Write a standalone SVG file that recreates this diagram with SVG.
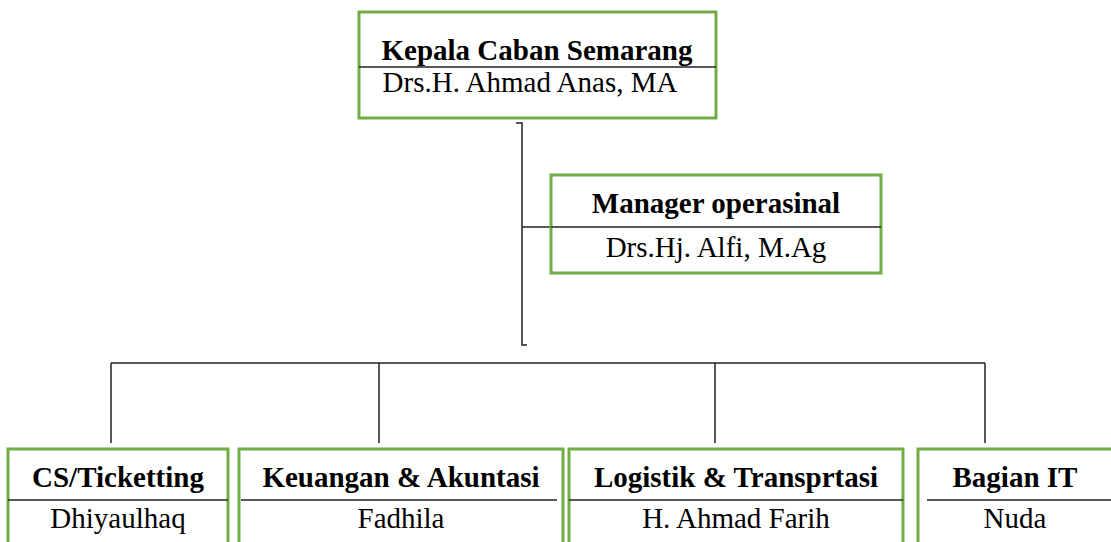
<svg xmlns="http://www.w3.org/2000/svg" width="1111" height="542" viewBox="0 0 1111 542">
<style>
.box{fill:#fff;stroke:#70AD47;stroke-width:3}
.div{stroke:#222;stroke-width:1.5;fill:none}
.con{stroke:#222;stroke-width:1.5;fill:none}
.t{font-family:"Liberation Serif","Times New Roman",serif;font-size:29px;fill:#000;text-anchor:middle}
.b{font-weight:bold}
</style>
<rect width="1111" height="542" fill="#fff"/>
<g id="connectors">
<polyline class="con" points="516,123 522,123 522,345 527,345"/>
<line class="con" x1="522" y1="227" x2="551" y2="227"/>
<line class="con" x1="111" y1="363" x2="985" y2="363"/>
<line class="con" x1="111" y1="363" x2="111" y2="443"/>
<line class="con" x1="379" y1="363" x2="379" y2="443"/>
<line class="con" x1="715" y1="363" x2="715" y2="443"/>
<line class="con" x1="985" y1="363" x2="985" y2="443"/>
</g>
<g id="kepala">
<rect class="box" x="359" y="12" width="357" height="106"/>
<line class="div" x1="359" y1="67" x2="716" y2="67"/>
<text class="t b" x="537" y="60">Kepala Caban Semarang</text>
<text class="t" x="530" y="92">Drs.H. Ahmad Anas, MA</text>
</g>
<g id="manager">
<rect class="box" x="551" y="175" width="330" height="98"/>
<line class="div" x1="551" y1="227" x2="881" y2="227"/>
<text class="t b" x="716" y="213">Manager operasinal</text>
<text class="t" x="716" y="257">Drs.Hj. Alfi, M.Ag</text>
</g>
<g id="cs">
<rect class="box" x="8" y="449" width="220" height="110"/>
<line class="div" x1="8" y1="500" x2="228" y2="500"/>
<text class="t b" x="118" y="487">CS/Ticketting</text>
<text class="t" x="118" y="528">Dhiyaulhaq</text>
</g>
<g id="keuangan">
<rect class="box" x="239" y="449" width="324" height="110"/>
<line class="div" x1="241" y1="500" x2="557" y2="500"/>
<text class="t b" x="401" y="487">Keuangan &amp; Akuntasi</text>
<text class="t" x="401" y="528">Fadhila</text>
</g>
<g id="logistik">
<rect class="box" x="569" y="449" width="334" height="110"/>
<line class="div" x1="569" y1="500" x2="903" y2="500"/>
<text class="t b" x="736" y="487">Logistik &amp; Transprtasi</text>
<text class="t" x="736" y="528">H. Ahmad Farih</text>
</g>
<g id="it">
<rect class="box" x="918" y="449" width="200" height="110"/>
<line class="div" x1="927" y1="500" x2="1111" y2="500"/>
<text class="t b" x="1015" y="487">Bagian IT</text>
<text class="t" x="1015" y="528">Nuda</text>
</g>
</svg>
